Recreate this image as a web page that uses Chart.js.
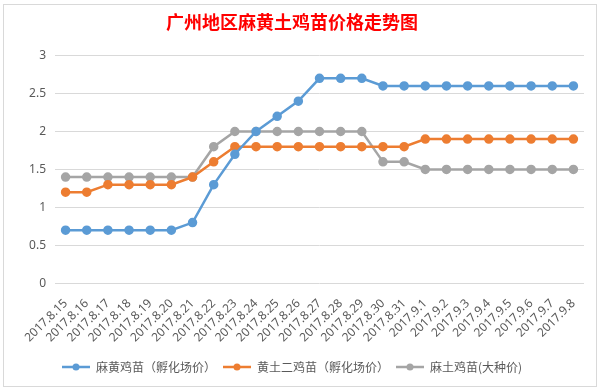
<!doctype html>
<html>

<head>
    <meta charset="utf-8">
    <title>广州地区麻黄土鸡苗价格走势图</title>
    <script src="https://cdn.jsdelivr.net/npm/chart.js@4/dist/chart.umd.min.js"></script>
    <style>
        body { margin: 0; background: #fff; }
        #frame { position: absolute; left: 3px; top: 4px; width: 592px; height: 381px; border: 1px solid #d9d9d9; }
        #holder { position: absolute; left: 0; top: 0; width: 604px; height: 389px; }
    </style>
</head>

<body>
    <div id="frame"></div>
    <div id="holder">
        <canvas id="chart-area" width="604" height="389"></canvas>
    </div>
    <script>
    var dates = [
        "2017.8.15", "2017.8.16", "2017.8.17", "2017.8.18", "2017.8.19", "2017.8.20", "2017.8.21",
        "2017.8.22", "2017.8.23", "2017.8.24", "2017.8.25", "2017.8.26", "2017.8.27", "2017.8.28",
        "2017.8.29", "2017.8.30", "2017.8.31", "2017.9.1", "2017.9.2", "2017.9.3", "2017.9.4",
        "2017.9.5", "2017.9.6", "2017.9.7", "2017.9.8"
    ];
    var mahuang = [0.7, 0.7, 0.7, 0.7, 0.7, 0.7, 0.8, 1.3, 1.7, 2.0, 2.2, 2.4, 2.7, 2.7, 2.7, 2.6, 2.6, 2.6, 2.6, 2.6, 2.6, 2.6, 2.6, 2.6, 2.6];
    var huangtu = [1.2, 1.2, 1.3, 1.3, 1.3, 1.3, 1.4, 1.6, 1.8, 1.8, 1.8, 1.8, 1.8, 1.8, 1.8, 1.8, 1.8, 1.9, 1.9, 1.9, 1.9, 1.9, 1.9, 1.9, 1.9];
    var matu = [1.4, 1.4, 1.4, 1.4, 1.4, 1.4, 1.4, 1.8, 2.0, 2.0, 2.0, 2.0, 2.0, 2.0, 2.0, 1.6, 1.6, 1.5, 1.5, 1.5, 1.5, 1.5, 1.5, 1.5, 1.5];
    var yTicks = [0, 0.5, 1, 1.5, 2, 2.5, 3];

    var names = ["麻黄鸡苗（孵化场价）", "黄土二鸡苗（孵化场价）", "麻土鸡苗(大种价)"];
    var colors = ["#5B9BD5", "#ED7D31", "#A5A5A5"];

    // small line + dot icon for the legend
    function legendIcon(color) {
        var c = document.createElement("canvas");
        c.width = 28;
        c.height = 10;
        var g = c.getContext("2d");
        g.strokeStyle = color;
        g.lineWidth = 2.5;
        g.beginPath();
        g.moveTo(0, 5);
        g.lineTo(28, 5);
        g.stroke();
        g.fillStyle = color;
        g.beginPath();
        g.arc(14, 5, 3.5, 0, Math.PI * 2);
        g.fill();
        return c;
    }

    function makeSet(i, values) {
        return {
            label: names[i],
            data: values,
            borderColor: colors[i],
            backgroundColor: colors[i],
            borderWidth: 2.5,
            pointRadius: 3.5,
            pointHoverRadius: 4,
            pointStyle: 'circle',
            tension: 0
        };
    }

    var config = {
        type: 'line',
        data: {
            labels: dates,
            datasets: [makeSet(0, mahuang), makeSet(1, huangtu), makeSet(2, matu)]
        },
        options: {
            responsive: false,
            animation: false,
            layout: { padding: { left: 0, right: 20, top: 0, bottom: 6 } },
            plugins: {
                title: {
                    display: true,
                    text: "广州地区麻黄土鸡苗价格走势图",
                    color: "#ff0000",
                    font: { family: "'Noto Sans CJK SC'", size: 18, weight: 'bold' },
                    padding: { top: 11, bottom: 23 }
                },
                legend: {
                    position: 'bottom',
                    labels: {
                        usePointStyle: true,
                        pointStyleWidth: 28,
                        color: "#595959",
                        font: { family: "'Noto Sans CJK SC'", size: 12 },
                        padding: 7,
                        generateLabels: function(chart) {
                            return chart.data.datasets.map(function(ds, i) {
                                return {
                                    text: ds.label,
                                    fillStyle: ds.borderColor,
                                    strokeStyle: ds.borderColor,
                                    pointStyle: legendIcon(ds.borderColor),
                                    datasetIndex: i,
                                    fontColor: "#595959",
                                    hidden: false
                                };
                            });
                        }
                    }
                },
                tooltip: { enabled: false }
            },
            scales: {
                x: {
                    offset: true,
                    grid: { display: false },
                    border: { display: false },
                    afterFit: function(axis) { axis.height += 4; },
                    ticks: {
                        autoSkip: false,
                        maxRotation: 45,
                        minRotation: 45,
                        color: "#595959",
                        font: { family: "'Noto Sans'", size: 12 },
                        padding: 5
                    }
                },
                y: {
                    min: 0,
                    max: 3,
                    afterBuildTicks: function(axis) {
                        axis.ticks = yTicks.map(function(v) { return { value: v }; });
                    },
                    afterFit: function(axis) { axis.width = 55; },
                    grid: { color: "#d9d9d9", drawTicks: false },
                    border: { display: false },
                    ticks: {
                        color: "#595959",
                        font: { family: "'Noto Sans'", size: 12 },
                        padding: 9,
                        callback: function(v) { return String(v); }
                    }
                }
            }
        }
    };

    window.onload = function() {
        var ctx = document.getElementById("chart-area").getContext("2d");
        window.myLine = new Chart(ctx, config);
    };
    </script>
</body>

</html>
